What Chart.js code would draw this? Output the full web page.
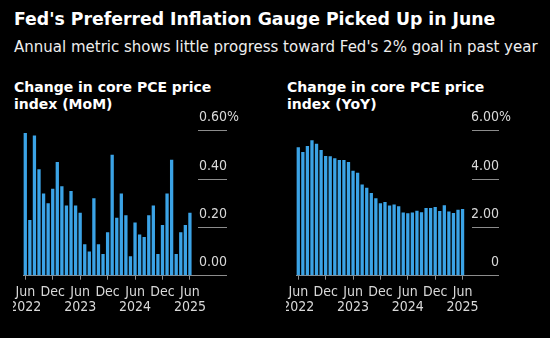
<!DOCTYPE html>
<html>
<head>
<meta charset="utf-8">
<script src="https://cdn.jsdelivr.net/npm/chart.js@4.4.0/dist/chart.umd.min.js"></script>
<style>
  body { margin: 0; background: #000; width: 550px; height: 338px; overflow: hidden; position: relative; }
  .title { position: absolute; left: 14px; top: 11px; font: bold 17.3px/17px "DejaVu Sans", sans-serif; color: #fff; white-space: nowrap; }
  .subtitle { position: absolute; left: 14px; top: 40px; font: 15px/15px "DejaVu Sans", sans-serif; color: #eee; white-space: nowrap; }
  .panel-title { position: absolute; top: 79px; font: bold 14px/16.7px "DejaVu Sans", sans-serif; color: #fff; white-space: nowrap; }
  canvas { position: absolute; top: 100px; }
</style>
</head>
<body>
<div class="title">Fed's Preferred Inflation Gauge Picked Up in June</div>
<div class="subtitle">Annual metric shows little progress toward Fed's 2% goal in past year</div>
<div class="panel-title" style="left:14px">Change in core PCE price<br>index (MoM)</div>
<div class="panel-title" style="left:287px">Change in core PCE price<br>index (YoY)</div>
<canvas id="momChart" width="226" height="216" style="left:13px"></canvas>
<canvas id="yoyChart" width="225" height="216" style="left:286px"></canvas>
<script>
// Monthly observations, Jun 2022 - Jun 2025
const months = [
    'Jun 2022', 'Jul 2022', 'Aug 2022', 'Sep 2022', 'Oct 2022', 'Nov 2022', 'Dec 2022',
    'Jan 2023', 'Feb 2023', 'Mar 2023', 'Apr 2023', 'May 2023', 'Jun 2023', 'Jul 2023',
    'Aug 2023', 'Sep 2023', 'Oct 2023', 'Nov 2023', 'Dec 2023', 'Jan 2024', 'Feb 2024',
    'Mar 2024', 'Apr 2024', 'May 2024', 'Jun 2024', 'Jul 2024', 'Aug 2024', 'Sep 2024',
    'Oct 2024', 'Nov 2024', 'Dec 2024', 'Jan 2025', 'Feb 2025', 'Mar 2025', 'Apr 2025',
    'May 2025', 'Jun 2025'
];

// Core PCE price index, month-over-month % change
const momChange = [
    0.59, 0.23, 0.58, 0.44, 0.34, 0.30, 0.36, 0.47, 0.37, 0.29, 0.35, 0.29, 0.26,
    0.13, 0.10, 0.32, 0.13, 0.09, 0.18, 0.50, 0.24, 0.34, 0.25, 0.08, 0.22, 0.17,
    0.16, 0.25, 0.29, 0.09, 0.21, 0.34, 0.48, 0.09, 0.18, 0.21, 0.26
];

// Core PCE price index, year-over-year % change
const yoyChange = [
    5.32, 5.12, 5.37, 5.61, 5.46, 5.20, 4.95, 4.94, 4.86, 4.79, 4.79, 4.70, 4.34,
    4.26, 3.77, 3.64, 3.42, 3.20, 3.00, 3.05, 2.90, 2.95, 2.87, 2.62, 2.58, 2.62,
    2.69, 2.63, 2.80, 2.80, 2.84, 2.68, 2.92, 2.66, 2.59, 2.73, 2.76
];

// x axis labels, one every six months
const xTickMonths = ['Jun 2022', 'Dec 2022', 'Jun 2023', 'Dec 2023', 'Jun 2024', 'Dec 2024', 'Jun 2025'];
const xTickLabels = [['Jun', '2022'], ['Dec'], ['Jun', '2023'], ['Dec'], ['Jun', '2024'], ['Dec'], ['Jun', '2025']];

const momTickLabels = ['0.00', '0.20', '0.40', '0.60'];
const yoyTickLabels = ['0', '2.00', '4.00', '6.00'];

const BAR_COLOR = '#3ba3e6';
const GRID_COLOR = '#8c8c8c';
const LABEL_COLOR = '#d9d9d9';
const AXIS_FONT = { family: "'DejaVu Sans Condensed', 'DejaVu Sans', sans-serif", size: 14, lineHeight: 1.02 };

const xTickIndex = xTickMonths.map(m => months.indexOf(m));

// puts a "%" after the top y label without shifting the number itself
const percentSuffix = {
    id: 'percentSuffix',
    afterDraw(chart) {
        const items = chart.scales.y.getLabelItems();
        const top = items[items.length - 1];
        const [x, y] = top.options.translation;
        const c = chart.ctx;
        c.save();
        c.font = top.font.string;
        c.fillStyle = top.options.color;
        c.textAlign = 'left';
        c.textBaseline = top.options.textBaseline;
        c.fillText('%', x, y + top.textOffset);
        c.restore();
    }
};

function makeChart(id, values, yMax, yStep, yLabels, yTickLen, xMax) {
    return new Chart(document.getElementById(id), {
        type: 'bar',
        data: {
            datasets: [{
                data: values.map((v, i) => ({ x: i, y: v })),
                backgroundColor: BAR_COLOR,
                barPercentage: 0.72,
                categoryPercentage: 1
            }]
        },
        options: {
            responsive: false,
            animation: false,
            layout: { padding: { left: 10, top: 30.7, right: 12, bottom: 0 } },
            plugins: {
                legend: { display: false },
                tooltip: { enabled: false }
            },
            scales: {
                x: {
                    type: 'linear',
                    min: -0.5,
                    max: xMax,
                    offset: false,
                    grid: { offset: false, drawOnChartArea: false, tickLength: 4, color: GRID_COLOR },
                    border: { color: GRID_COLOR },
                    afterBuildTicks: s => { s.ticks = xTickIndex.map(v => ({ value: v })); },
                    afterFit: s => { s.paddingLeft = 0; s.paddingRight = 0; s.height = 40.3; },
                    ticks: {
                        autoSkip: false,
                        maxRotation: 0,
                        padding: 6,
                        color: LABEL_COLOR,
                        font: AXIS_FONT,
                        callback: v => xTickLabels[xTickIndex.indexOf(v)]
                    }
                },
                y: {
                    position: 'right',
                    min: 0,
                    max: yMax,
                    grid: { drawOnChartArea: false, tickLength: yTickLen, color: GRID_COLOR },
                    border: { display: false },
                    afterFit: s => { s.width = yTickLen; s.paddingTop = 0; s.paddingBottom = 0; },
                    ticks: {
                        stepSize: yStep,
                        crossAlign: 'far',
                        labelOffset: -13,
                        color: LABEL_COLOR,
                        font: AXIS_FONT,
                        callback: (v, i) => yLabels[i]
                    }
                }
            }
        },
        plugins: [percentSuffix]
    });
}

makeChart('momChart', momChange, 0.6, 0.2, momTickLabels, 29.3, 37.7);
makeChart('yoyChart', yoyChange, 6, 2, yoyTickLabels, 27.3, 38);
</script>
</body>
</html>
